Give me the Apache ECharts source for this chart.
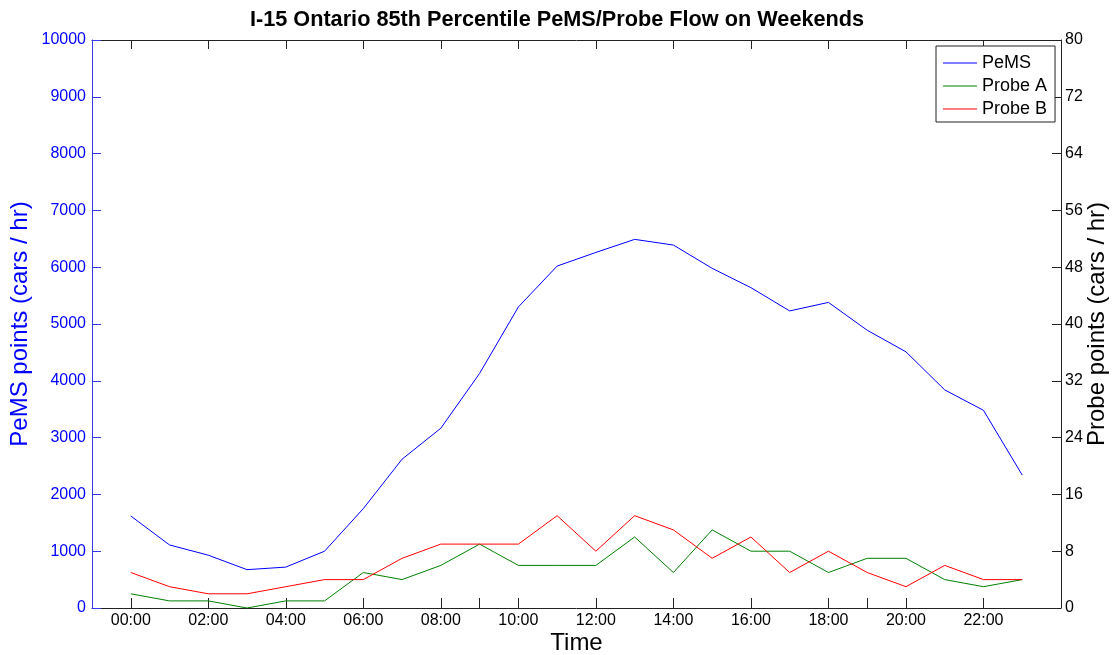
<!DOCTYPE html>
<html>
<head>
<meta charset="utf-8">
<script src="https://cdn.jsdelivr.net/npm/echarts@6/dist/echarts.min.js"></script>
<style>
html,body{margin:0;padding:0;background:#fff;}
#chart{width:1114px;height:655px;}
</style>
</head>
<body>
<div id="chart"></div>
<script>
var hours = [0,1,2,3,4,5,6,7,8,9,10,11,12,13,14,15,16,17,18,19,20,21,22,23];
var pems = [1620,1110,930,675,720,1000,1750,2620,3165,4130,5300,6020,6260,6490,6390,5980,5640,5230,5380,4890,4510,3840,3480,2340];
var probeA = [2,1,1,0,1,1,5,4,6,9,6,6,6,10,5,11,8,8,5,7,7,4,3,4];
var probeB = [5,3,2,2,3,4,4,7,9,9,9,13,8,13,11,7,10,5,8,5,3,6,4,4];
var xTickLabels = [0,2,4,6,8,10,12,14,16,18,20,22];
var xBottomTicks = [0,2,4,6,8,9,10,12,14,16,18,19,20,22];

function pairs(vals){ return hours.map(function(h,i){ return [h, vals[i]]; }); }
function fmtHour(v){ var h = Math.round(v); return (h<10?'0':'')+h+':00'; }
function plain(v){ return String(v); }

var chart = echarts.init(document.getElementById('chart'), null, {renderer:'canvas'});
var font = 'Liberation Sans, Arial, sans-serif';
chart.setOption({
  animation:false,
  backgroundColor:'#ffffff',
  title:{
    text:'I-15 Ontario 85th Percentile PeMS/Probe Flow on Weekends',
    left:'center', top:4,
    textStyle:{fontFamily:font, fontSize:21.7, fontWeight:'bold', color:'#000'}
  },
  legend:{
    orient:'vertical', left:936, top:46,
    backgroundColor:'#fff', borderColor:'#222', borderWidth:1,
    padding:[8,8,4,7], itemGap:5, itemWidth:34, itemHeight:1,
    icon:'rect',
    textStyle:{fontFamily:font, fontSize:18, color:'#000'},
    data:['PeMS','Probe A','Probe B']
  },
  grid:{left:92, right:53, top:40, bottom:47, containLabel:false, outerBoundsMode:'none'},
  xAxis:[
    {
      type:'value', position:'bottom', min:-1, max:24,
      name:'Time', nameLocation:'middle', nameGap:23, nameMoveOverlap:false,
      nameTextStyle:{fontFamily:font, fontSize:24, color:'#000'},
      axisLine:{show:true, onZero:false, lineStyle:{color:'#222', width:1}},
      axisTick:{show:true, inside:true, length:10, customValues:xBottomTicks, lineStyle:{color:'#222'}},
      axisLabel:{show:true, customValues:xTickLabels, formatter:fmtHour, fontFamily:font, fontSize:16, color:'#000', margin:5},
      splitLine:{show:false}
    },
    {
      type:'value', position:'top', min:-1, max:24,
      axisLine:{show:true, onZero:false, lineStyle:{color:'#222', width:1}},
      axisTick:{show:true, inside:true, length:9, customValues:xTickLabels, lineStyle:{color:'#222'}},
      axisLabel:{show:false},
      splitLine:{show:false}
    }
  ],
  yAxis:[
    {
      type:'value', position:'left', min:0, max:10000, interval:1000,
      name:'PeMS points (cars / hr)', nameLocation:'middle', nameGap:60, nameRotate:90, nameMoveOverlap:false,
      nameTextStyle:{fontFamily:font, fontSize:24, color:'#0000ff'},
      axisLine:{show:true, onZero:false, lineStyle:{color:'#3838e8', width:1}},
      axisTick:{show:true, inside:true, length:9, lineStyle:{color:'#3838e8'}},
      axisLabel:{formatter:plain, fontFamily:font, fontSize:16, color:'#0000ff', margin:6},
      splitLine:{show:false}
    },
    {
      type:'value', position:'right', min:0, max:80, interval:8,
      name:'Probe points (cars / hr)', nameLocation:'middle', nameGap:24, nameRotate:90, nameMoveOverlap:false,
      nameTextStyle:{fontFamily:font, fontSize:24, color:'#000'},
      axisLine:{show:true, onZero:false, lineStyle:{color:'#222', width:1}},
      axisTick:{show:true, inside:true, length:9, lineStyle:{color:'#222'}},
      axisLabel:{formatter:plain, fontFamily:font, fontSize:16, color:'#000', margin:4},
      splitLine:{show:false}
    }
  ],
  series:[
    {name:'PeMS', type:'line', xAxisIndex:0, yAxisIndex:0, data:pairs(pems), symbol:'none', lineStyle:{color:'#0000ff', width:1}, itemStyle:{color:'#0000ff'}},
    {name:'Probe A', type:'line', xAxisIndex:0, yAxisIndex:1, data:pairs(probeA), symbol:'none', lineStyle:{color:'#008000', width:1}, itemStyle:{color:'#008000'}},
    {name:'Probe B', type:'line', xAxisIndex:0, yAxisIndex:1, data:pairs(probeB), symbol:'none', lineStyle:{color:'#ff0000', width:1}, itemStyle:{color:'#ff0000'}}
  ]
});
</script>
</body>
</html>
